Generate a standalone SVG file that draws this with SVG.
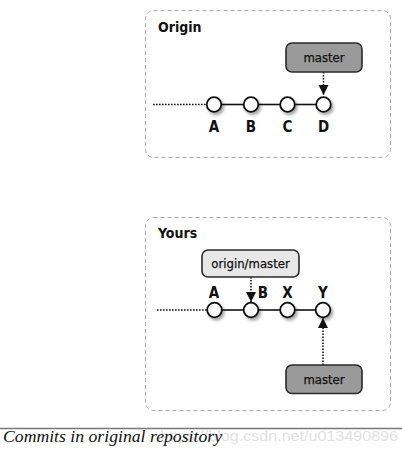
<svg xmlns="http://www.w3.org/2000/svg" width="402" height="464" viewBox="0 0 402 464">
<style>
.frame{fill:#fff;stroke:#aaa;stroke-width:1;stroke-dasharray:4 3}
.title{font-family:"DejaVu Sans Condensed","DejaVu Sans",sans-serif;font-weight:bold;font-size:14px;fill:#111}
.lbl{font-family:"DejaVu Sans Condensed","DejaVu Sans",sans-serif;font-weight:bold;font-size:15px;fill:#111;text-anchor:middle}
.ref{font-family:"DejaVu Sans Condensed","DejaVu Sans",sans-serif;font-size:13px;fill:#111;stroke:#111;stroke-width:0.25;text-anchor:middle}
.dark{fill:#9a9a9a;stroke:#2a2a2a;stroke-width:1.6}
.light{fill:#e8e8e8;stroke:#2a2a2a;stroke-width:1.6}
.commit{fill:#fff;stroke:#111;stroke-width:1.8;filter:url(#sh)}
.edge{stroke:#111;stroke-width:1.6;fill:none}
.dots{stroke:#111;stroke-width:1.6;stroke-dasharray:1.6 1.4;fill:none}
.ptr{stroke:#111;stroke-width:1.6;stroke-dasharray:1.6 1.4;fill:none;marker-end:url(#ah)}
</style>
<defs>
<filter id="sh" x="-50%" y="-50%" width="200%" height="200%">
<feDropShadow dx="2" dy="2.5" stdDeviation="1.6" flood-color="#000" flood-opacity="0.35"/>
</filter>
<marker id="ah" viewBox="0 0 10 10" refX="10" refY="5" markerWidth="10" markerHeight="11" markerUnits="userSpaceOnUse" orient="auto">
<path d="M0,0 L10,5 L0,10 z" fill="#111"/>
</marker>
</defs>

<g id="origin-frame">
<rect class="frame" x="145.5" y="10.5" width="245" height="147" rx="8"/>
<text class="title" x="158" y="32">Origin</text>
</g>
<g id="yours-frame">
<rect class="frame" x="145.5" y="217.5" width="245" height="193" rx="8"/>
<text class="title" x="158" y="238">Yours</text>
</g>

<g id="connectors">
<line class="dots" x1="153" y1="104.5" x2="206" y2="104.5"/>
<line class="edge" x1="221" y1="104.5" x2="244" y2="104.5"/>
<line class="edge" x1="258" y1="104.5" x2="280" y2="104.5"/>
<line class="edge" x1="295" y1="104.5" x2="316" y2="104.5"/>
<line class="ptr" x1="323.5" y1="72" x2="323.5" y2="95"/>

<line class="dots" x1="157" y1="310" x2="207" y2="310"/>
<line class="edge" x1="222" y1="310" x2="244" y2="310"/>
<line class="edge" x1="258" y1="310" x2="280" y2="310"/>
<line class="edge" x1="295" y1="310" x2="316" y2="310"/>
<line class="ptr" x1="251" y1="277" x2="251" y2="302"/>
<line class="ptr" x1="323" y1="365" x2="323" y2="318"/>
</g>

<g id="origin-master">
<rect class="dark" x="286" y="43" width="76" height="29" rx="6"/>
<text class="ref" x="324" y="62">master</text>
</g>
<g id="origin-A"><circle class="commit" cx="214" cy="104.5" r="7.3"/><text class="lbl" x="214" y="132">A</text></g>
<g id="origin-B"><circle class="commit" cx="251" cy="104.5" r="7.3"/><text class="lbl" x="251" y="132">B</text></g>
<g id="origin-C"><circle class="commit" cx="287.5" cy="104.5" r="7.3"/><text class="lbl" x="287.5" y="132">C</text></g>
<g id="origin-D"><circle class="commit" cx="323.5" cy="104.5" r="7.3"/><text class="lbl" x="323.5" y="132">D</text></g>

<g id="yours-origin-master">
<rect class="light" x="202" y="250" width="97" height="27" rx="6"/>
<text class="ref" x="250.5" y="268">origin/master</text>
</g>
<g id="yours-A"><circle class="commit" cx="214.5" cy="310" r="7.3"/><text class="lbl" x="214" y="298">A</text></g>
<g id="yours-B"><circle class="commit" cx="251" cy="310" r="7.3"/><text class="lbl" x="263" y="298">B</text></g>
<g id="yours-X"><circle class="commit" cx="287.5" cy="310" r="7.3"/><text class="lbl" x="287.5" y="298">X</text></g>
<g id="yours-Y"><circle class="commit" cx="323" cy="310" r="7.3"/><text class="lbl" x="323" y="298">Y</text></g>
<g id="yours-master">
<rect class="dark" x="286" y="365" width="76" height="28.5" rx="6"/>
<text class="ref" x="324" y="383.5">master</text>
</g>

<g id="caption">
<line x1="0" y1="428.5" x2="402" y2="428.5" stroke="#777" stroke-width="1.5"/>
<text x="160" y="441" font-family="'Liberation Sans',sans-serif" font-size="15" fill="#e2e2e2" textLength="238" lengthAdjust="spacingAndGlyphs">https://blog.csdn.net/u013490896</text>
<text x="3" y="442" font-family="'Liberation Serif',serif" font-style="italic" font-size="17" fill="#111" textLength="219" lengthAdjust="spacingAndGlyphs">Commits in original repository</text>
</g>
</svg>
